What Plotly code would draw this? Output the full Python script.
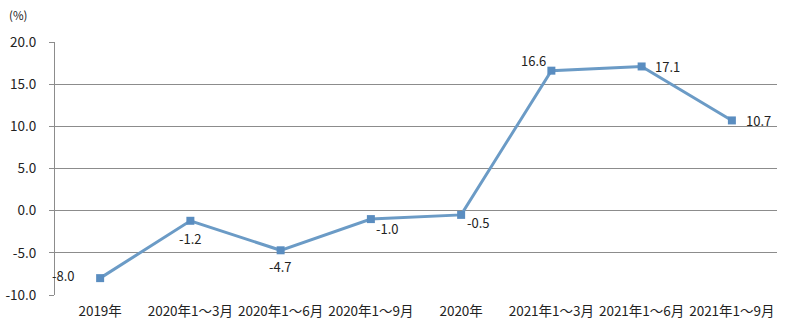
import plotly.graph_objects as go

categories = ["2019年", "2020年1～3月", "2020年1～6月", "2020年1～9月", "2020年",
              "2021年1～3月", "2021年1～6月", "2021年1～9月"]
values = [-8.0, -1.2, -4.7, -1.0, -0.5, 16.6, 17.1, 10.7]
labels = ["-8.0", "-1.2", "-4.7", "-1.0", "-0.5", "16.6", "17.1", "10.7"]
y_ticks = [-10, -5, 0, 5, 10, 15, 20]
y_tick_text = ["-10.0", "-5.0", "0.0", "5.0", "10.0", "15.0", "20.0"]

# label placement styles: (xanchor, yanchor, xshift, yshift)
label_style = [("right", "middle", -23, 3), ("center", "middle", 0, -18),
               ("center", "middle", 0, -16), ("left", "middle", 3, -9),
               ("left", "middle", 4, -8), ("right", "middle", -3, 10),
               ("left", "middle", 11, 0), ("left", "middle", 12, 0)]

font = "Noto Sans CJK SC, Microsoft YaHei, sans-serif"

fig = go.Figure()
fig.add_trace(go.Scatter(
    x=categories, y=values, mode="lines+markers",
    line=dict(color="#6b9bc6", width=3),
    marker=dict(symbol="square", size=8, color="#5a8dc0"),
    showlegend=False,
))
annotations = []
for c, v, t, (xa, ya, xs, ys) in zip(categories, values, labels, label_style):
    annotations.append(dict(x=c, y=v, xref="x", yref="y", text=t, showarrow=False,
                            xanchor=xa, yanchor=ya, xshift=xs, yshift=ys,
                            font=dict(size=13, color="#222")))
annotations.append(dict(text="(%)", xref="paper", yref="paper", x=-0.066, y=1.0,
                        yshift=17, xanchor="left", yanchor="bottom", showarrow=False,
                        font=dict(size=11.5, color="#222")))
fig.update_layout(
    width=789, height=334,
    margin=dict(l=55, r=12, t=42, b=39),
    paper_bgcolor="white", plot_bgcolor="white",
    font=dict(family=font, size=13, color="#222"),
    xaxis=dict(type="category", range=[-0.5, 7.5], showgrid=False, showline=False,
               ticks="", tickfont=dict(size=13.5), ticklabelstandoff=6, automargin=False),
    yaxis=dict(range=[-10, 20], tickvals=y_ticks, ticktext=y_tick_text,
               showgrid=True, gridcolor="#8c8c8c", gridwidth=1,
               showline=True, linecolor="#8c8c8c", linewidth=1,
               ticks="outside", ticklen=5, tickcolor="#8c8c8c",
               zeroline=False, tickfont=dict(size=13.5), ticklabelstandoff=10,
               automargin=False),
    annotations=annotations,
)
fig.write_html("out.html")
